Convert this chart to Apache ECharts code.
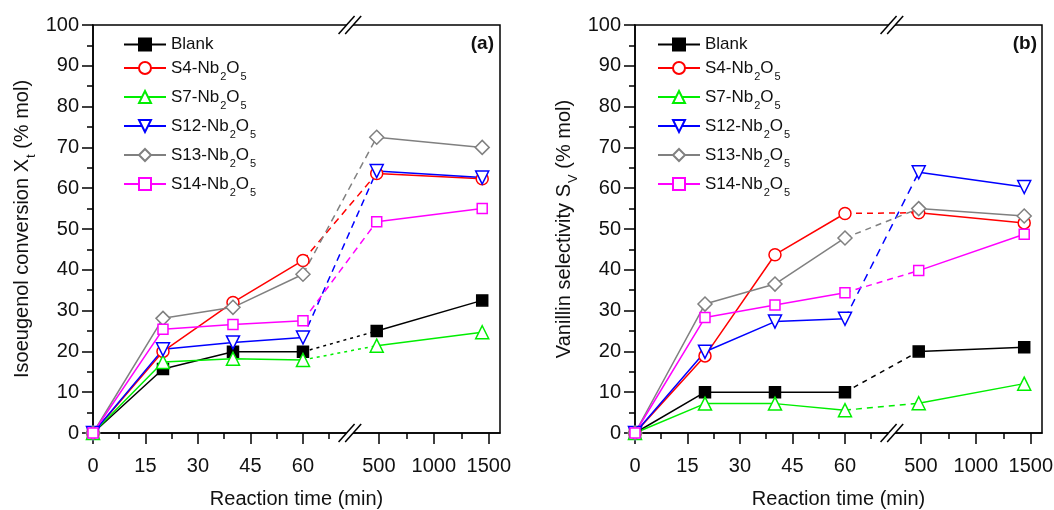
<!DOCTYPE html>
<html>
<head>
<meta charset="utf-8">
<script src="https://cdn.jsdelivr.net/npm/echarts@6/dist/echarts.min.js"></script>
<style>
  html, body { margin: 0; padding: 0; background: #fff; }
  #chart { width: 1054px; height: 510px; }
</style>
</head>
<body>
<div id="chart"></div>
<script>
// Sampling times (min)
const times = [0, 20, 40, 60, 480, 1440];
const sampleNames = ['Blank', 'S4-Nb2O5', 'S7-Nb2O5', 'S12-Nb2O5', 'S13-Nb2O5', 'S14-Nb2O5'];

// (a) Isoeugenol conversion X_t (% mol)
const convBlank = [0, 15.7, 19.9, 19.9, 25.0, 32.5];
const convS4    = [0, 20.0, 32.0, 42.3, 63.6, 62.3];
const convS7    = [0, 17.4, 18.2, 17.9, 21.4, 24.7];
const convS12   = [0, 20.5, 22.2, 23.4, 64.2, 62.6];
const convS13   = [0, 28.1, 30.8, 38.9, 72.5, 70.0];
const convS14   = [0, 25.4, 26.6, 27.5, 51.8, 55.0];

// (b) Vanillin selectivity S_V (% mol)
const selBlank = [0, 10.0, 10.0, 10.0, 20.0, 21.0];
const selS4    = [0, 18.9, 43.7, 53.8, 54.0, 51.5];
const selS7    = [0, 7.2, 7.2, 5.6, 7.3, 12.1];
const selS12   = [0, 19.9, 27.3, 28.0, 63.9, 60.3];
const selS13   = [0, 31.6, 36.5, 47.8, 55.0, 53.2];
const selS14   = [0, 28.3, 31.4, 34.4, 39.8, 48.7];

// Axis ticks (min) and y range
const xTickTimes  = [0, 15, 30, 45, 60, 500, 1000, 1500];
const xMinorTimes = [7.5, 22.5, 37.5, 52.5, 67.5, 750, 1250];
const yMin = 0, yMax = 100, yStep = 10;

// Broken time axis: 0-70 min linear, then a compressed long-time segment
const SPLIT = 70, SEG2_OFFSET = 66, SEG2_SCALE = 0.0314;
const AXIS_MAX = 116.3, BREAK_POS = 73.4;
function axisPos(t) { return t <= SPLIT ? t : SEG2_OFFSET + t * SEG2_SCALE; }
function axisTime(u) { return u <= SPLIT ? u : (u - SEG2_OFFSET) / SEG2_SCALE; }

const FONT = 'Liberation Sans, Arial, sans-serif';
const TXT = '#111';

const markStyles = [
  { color: '#000000', symbol: 'rect',     size: 11, fill: '#000000', rotate: 0 },
  { color: '#ff0000', symbol: 'circle',   size: 12, fill: '#ffffff', rotate: 0 },
  { color: '#00ee00', symbol: 'triangle', size: 13, fill: '#ffffff', rotate: 0 },
  { color: '#0000ff', symbol: 'triangle', size: 13, fill: '#ffffff', rotate: 180 },
  { color: '#808080', symbol: 'diamond',  size: 14, fill: '#ffffff', rotate: 0 },
  { color: '#ff00ff', symbol: 'rect',     size: 10, fill: '#ffffff', rotate: 0 }
];

const panels = [
  { values: [convBlank, convS4, convS7, convS12, convS13, convS14],
    dash: [[3, 4], [7, 5], [3, 4], [7, 5], [7, 5], [7, 5]],
    yName: '{m|Isoeugenol conversion X}{s|t}{m| (% mol)}',
    left: 93, legendLeft: 123, tag: '(a)', tagRight: 494 },
  { values: [selBlank, selS4, selS7, selS12, selS13, selS14],
    dash: [[5, 5], [6, 5], [6, 5], [8, 6], [6, 5], [6, 5]],
    yName: '{m|Vanillin selectivity S}{s|V}{m| (% mol)}',
    left: 635, legendLeft: 657, tag: '(b)', tagRight: 1037 }
];

const richSub = {
  m: { fontSize: 20, fontFamily: FONT, color: TXT, lineHeight: 22 },
  s: { fontSize: 13, fontFamily: FONT, color: TXT, lineHeight: 22, padding: [18, 0, 0, 1] }
};
const legendRich = {
  m: { fontSize: 17, fontFamily: FONT, color: TXT, lineHeight: 20 },
  s: { fontSize: 11, fontFamily: FONT, color: TXT, lineHeight: 20, padding: [17, 0, 0, 1] }
};

function legendLabel(name) {
  const k = name.indexOf('Nb2O5');
  if (k < 0) return '{m|' + name + '}';
  return '{m|' + name.slice(0, k) + 'Nb}{s|2}{m|O}{s|5}';
}

const grids = [], xAxes = [], yAxes = [], series = [], legends = [];

panels.forEach((p, pi) => {
  grids.push({ left: p.left, top: 25, width: 407, height: 408, show: true,
               outerBoundsMode: 'none', containLabel: false,
               borderColor: '#000', borderWidth: 1.5, backgroundColor: 'transparent' });

  // main time axis: labels and major ticks
  xAxes.push({
    type: 'value', gridIndex: pi, min: 0, max: AXIS_MAX,
    name: 'Reaction time (min)', nameLocation: 'middle', nameGap: 56,
    nameTextStyle: { fontSize: 20, fontFamily: FONT, color: TXT },
    axisLine: { show: true, onZero: false, lineStyle: { color: '#000', width: 1.5 } },
    axisTick: { show: true, customValues: xTickTimes.map(axisPos), length: 11,
                lineStyle: { color: '#000', width: 1.5 } },
    axisLabel: { customValues: xTickTimes.map(axisPos), margin: 23,
                 fontSize: 20, fontFamily: FONT, color: TXT,
                 formatter: v => String(Math.round(axisTime(v))) },
    splitLine: { show: false }
  });
  // minor ticks of the time axis
  xAxes.push({
    type: 'value', gridIndex: pi, min: 0, max: AXIS_MAX, position: 'bottom',
    axisLine: { show: false, onZero: false },
    axisTick: { show: true, customValues: xMinorTimes.map(axisPos), length: 6,
                lineStyle: { color: '#000', width: 1.5 } },
    axisLabel: { show: false }, splitLine: { show: false }
  });

  yAxes.push({
    type: 'value', gridIndex: pi, min: yMin, max: yMax, interval: yStep,
    name: p.yName, nameLocation: 'middle', nameGap: 60,
    nameTextStyle: { rich: richSub },
    axisLine: { show: true, onZero: false, lineStyle: { color: '#000', width: 1.5 } },
    axisTick: { show: true, length: 11, lineStyle: { color: '#000', width: 1.5 } },
    minorTick: { show: true, splitNumber: 2, length: 6, lineStyle: { color: '#000', width: 1.5 } },
    axisLabel: { margin: 14, fontSize: 20, fontFamily: FONT, color: TXT },
    splitLine: { show: false }, minorSplitLine: { show: false }
  });

  p.values.forEach((vals, si) => {
    const st = markStyles[si];
    // dashed link across the axis break (60 min -> 480 min)
    series.push({
      name: sampleNames[si] + ' link', type: 'line', xAxisIndex: pi * 2, yAxisIndex: pi,
      data: [[axisPos(times[3]), vals[3]], [axisPos(times[4]), vals[4]]],
      symbol: 'none', silent: true, z: 1,
      lineStyle: { color: st.color, width: 1.5, type: p.dash[si] }
    });
  });
  p.values.forEach((vals, si) => {
    const st = markStyles[si];
    const pts = times.map((t, i) => [axisPos(t), vals[i]]);
    pts.splice(4, 0, [(axisPos(times[3]) + axisPos(times[4])) / 2, null]);
    series.push({
      name: sampleNames[si], type: 'line', xAxisIndex: pi * 2, yAxisIndex: pi,
      data: pts, connectNulls: false, clip: false, z: 2,
      symbol: st.symbol, symbolSize: st.size, symbolRotate: st.rotate, showAllSymbol: true,
      lineStyle: { color: st.color, width: 1.5 },
      itemStyle: { color: st.fill, borderColor: st.color, borderWidth: 1.5 },
      emphasis: { disabled: true }
    });
  });

  legends.push({
    orient: 'vertical', left: p.legendLeft, top: 36, itemGap: 1, padding: 0,
    itemWidth: 42, itemHeight: 15, data: sampleNames,
    formatter: legendLabel,
    textStyle: { rich: legendRich },
    selectedMode: false
  });
});

const chart = echarts.init(document.getElementById('chart'), null, { renderer: 'canvas' });
chart.setOption({
  animation: false,
  backgroundColor: '#fff',
  grid: grids, xAxis: xAxes, yAxis: yAxes, legend: legends, series: series
});

// break marks on the time axis and panel tags
const gfx = [];
panels.forEach((p, pi) => {
  const bx = chart.convertToPixel({ xAxisIndex: pi * 2 }, BREAK_POS);
  const yTop = chart.convertToPixel({ yAxisIndex: pi }, yMax);
  const yBot = chart.convertToPixel({ yAxisIndex: pi }, yMin);
  [yTop, yBot].forEach(by => {
    const h = 3.3, sx = 8, sy = 9, k = sx / sy;
    gfx.push({ type: 'polygon', z: 100,
      shape: { points: [[bx - h - 2.5 * k, by + 2.5], [bx + h - 2.5 * k, by + 2.5],
                        [bx + h + 2.5 * k, by - 2.5], [bx - h + 2.5 * k, by - 2.5]] },
      style: { fill: '#fff' } });
    [-h, h].forEach(d => {
      gfx.push({ type: 'line', z: 101,
        shape: { x1: bx + d - sx, y1: by + sy, x2: bx + d + sx, y2: by - sy },
        style: { stroke: '#000', lineWidth: 1.5 } });
    });
  });
  gfx.push({ type: 'text', z: 101,
    style: { text: p.tag, x: p.tagRight, y: 44, align: 'right', verticalAlign: 'middle',
             font: 'bold 19px ' + FONT, fill: TXT } });
});
chart.setOption({ graphic: gfx });
</script>
</body>
</html>
